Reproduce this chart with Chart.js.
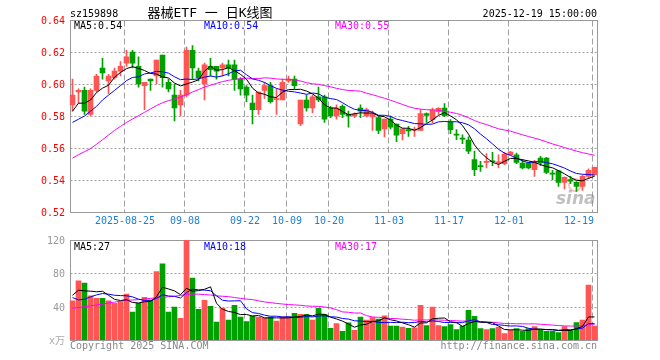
<!DOCTYPE html>
<html>
<head>
<meta charset="utf-8">
<script src="https://cdn.jsdelivr.net/npm/chart.js@4.4.0/dist/chart.umd.min.js"></script>
<style>
  body { margin: 0; background: #fff; }
  #wrap { position: relative; width: 660px; height: 360px; }
  #wrap canvas { position: absolute; left: 0; top: 0; }
</style>
</head>
<body>
<div id="wrap">
  <canvas id="kChart" width="660" height="360"></canvas>
  <canvas id="volChart" width="660" height="360"></canvas>
</div>
<script>
// Trading days
const dates = [
  '2025-08-12','2025-08-13','2025-08-14','2025-08-15','2025-08-18','2025-08-19','2025-08-20','2025-08-21','2025-08-22','2025-08-25',
  '2025-08-26','2025-08-27','2025-08-28','2025-08-29','2025-09-01','2025-09-02','2025-09-03','2025-09-04','2025-09-05','2025-09-08',
  '2025-09-09','2025-09-10','2025-09-11','2025-09-12','2025-09-15','2025-09-16','2025-09-17','2025-09-18','2025-09-19','2025-09-22',
  '2025-09-23','2025-09-24','2025-09-25','2025-09-26','2025-09-29','2025-09-30','2025-10-09','2025-10-10','2025-10-13','2025-10-14',
  '2025-10-15','2025-10-16','2025-10-17','2025-10-20','2025-10-21','2025-10-22','2025-10-23','2025-10-24','2025-10-27','2025-10-28',
  '2025-10-29','2025-10-30','2025-10-31','2025-11-03','2025-11-04','2025-11-05','2025-11-06','2025-11-07','2025-11-10','2025-11-11',
  '2025-11-12','2025-11-13','2025-11-14','2025-11-17','2025-11-18','2025-11-19','2025-11-20','2025-11-21','2025-11-24','2025-11-25',
  '2025-11-26','2025-11-27','2025-11-28','2025-12-01','2025-12-02','2025-12-03','2025-12-04','2025-12-05','2025-12-08','2025-12-09',
  '2025-12-10','2025-12-11','2025-12-12','2025-12-15','2025-12-16','2025-12-17','2025-12-18','2025-12-19'
];
const tickDates = ['2025-08-25','2025-09-08','2025-09-22','2025-10-09','2025-10-20','2025-11-03','2025-11-17','2025-12-01','2025-12-19'];

const open = [
  .587,.595,.596,.581,.596,.610,.602,.604,.608,.613,
  .620,.611,.599,.603,.605,.618,.601,.593,.587,.593,
  .621,.608,.600,.611,.611,.610,.612,.612,.603,.598,
  .588,.584,.596,.599,.5902,.590,.602,.603,.575,.590,
  .585,.592,.592,.585,.580,.586,.581,.580,.585,.580,
  .5795,.579,.572,.578,.575,.569,.5715,.5712,.571,.5815,
  .5777,.5827,.585,.576,.5685,.5658,.565,.5527,.5487,.551,
  .5517,.5508,.5502,.5558,.5558,.5506,.5506,.5465,.5537,.5537,
  .544,.5458,.5385,.5402,.5385,.536,.5423,.5433
];
const high = [
  .603,.597,.598,.597,.606,.616,.606,.610,.614,.621,
  .621,.617,.601,.603,.615,.618,.603,.600,.596,.623,
  .624,.610,.613,.616,.611,.613,.615,.615,.604,.599,
  .593,.595,.601,.601,.597,.603,.605,.605,.590,.593,
  .593,.598,.593,.586,.587,.587,.583,.582,.587,.585,
  .583,.580,.578,.580,.575,.572,.5735,.5731,.584,.582,
  .585,.5852,.5877,.5777,.5715,.5683,.567,.558,.5517,.5565,
  .5573,.5558,.5573,.5579,.5569,.5527,.551,.5523,.5548,.5542,
  .546,.546,.542,.5423,.539,.543,.547,.548
];
const low = [
  .583,.588,.581,.580,.595,.603,.594,.603,.605,.611,
  .610,.598,.584,.596,.600,.598,.595,.577,.580,.592,
  .603,.602,.590,.605,.603,.605,.605,.596,.593,.589,
  .575,.581,.591,.588,.581,.590,.601,.597,.574,.583,
  .582,.589,.576,.579,.578,.579,.573,.579,.579,.5795,
  .571,.569,.567,.572,.564,.565,.5673,.5673,.571,.576,
  .5756,.581,.5796,.569,.5652,.5627,.5565,.5427,.5454,.5475,
  .549,.5475,.5496,.5555,.5502,.547,.547,.5423,.549,.544,
  .5402,.536,.5344,.5377,.5329,.5335,.541,.543
];
const close = [
  .593,.596,.583,.596,.605,.607,.605,.608,.611,.617,
  .613,.600,.601,.602,.615,.604,.597,.585,.593,.621,
  .610,.604,.612,.609,.608,.612,.610,.603,.597,.593,
  .584,.595,.599,.589,.5906,.601,.603,.599,.590,.585,
  .592,.590,.578,.580,.585,.581,.580,.581,.583,.584,
  .5815,.571,.578,.573,.568,.572,.5706,.5716,.5815,.5804,
  .5835,.5848,.5802,.5715,.568,.5655,.558,.5465,.5484,.5513,
  .5514,.5511,.5562,.5575,.551,.5475,.5475,.5515,.5506,.5448,
  .5437,.5385,.5417,.5392,.536,.5423,.546,.5479
];
// volume, 万手
const volume = [
  46.9,71.1,68.3,52.9,50.1,50.1,46.9,44.0,45.7,55.0,
  33.5,44.0,51.3,48.1,82.0,91.3,33.5,39.6,25.9,119.6,
  74.3,36.8,47.7,40.4,21.4,38.0,23.8,41.6,27.5,22.2,
  28.7,27.5,26.7,27.5,22.6,27.9,27.9,31.9,30.7,30.7,
  23.8,38.0,30.7,14.1,19.8,10.5,20.6,11.7,27.5,24.0,
  27.0,25.0,29.0,16.6,16.6,15.4,14.1,14.5,41.6,17.4,
  39.6,17.4,16.2,18.6,12.5,16.6,35.6,28.3,13.7,12.5,
  13.7,15.4,7.7,11.7,13.7,10.5,13.7,16.2,11.7,10.5,
  10.5,8.9,16.2,11.3,21.0,23.8,65.9,16.6
];

const ma5Head = [.583,.588,.588,.590];
const ma10Head = [.576,.578,.580,.583,.586,.590,.593,.596,.599];
const ma30Head = [.5537,.5558,.5577,.5596,.5623,.5652,.5681,.5710,.5735,.5760,
  .5781,.5802,.5823,.5844,.5865,.5883,.5896,.5906,.5919,.5933,
  .5950,.5965,.5981,.5992,.6004,.6015,.6023,.6029,.6033];
const volMa5Head = [53.7,59.8,59.0,58.6];
const volMa10Head = [50.9,48.1,48.9,51.7,54.1,55.8,55.0,53.7,53.3];
const volMa30Head = [38,39,40,41,42,43,44.5,45.5,46.5,47.7,48,48.5,49,50,50.5,51,52,52.5,53.5,55,55,55,54.5,54,53,52.5,52,51,50];

const priceTicks = [0.64,0.62,0.60,0.58,0.56,0.54,0.52];
const volTicks = [120,80,40];

const RED = '#ff5555';
const GREEN = '#00a000';
const MONO = '10px "DejaVu Sans Mono", monospace';

function movingAverage(values, n, head) {
  return values.map((v, i) => {
    if (i < n - 1) return head[i];
    let s = 0;
    for (let k = i - n + 1; k <= i; k++) s += values[k];
    return s / n;
  });
}

const colors = close.map((c, i) => (c >= open[i] ? RED : GREEN));
const xy = arr => arr.map((v, i) => ({ x: i, y: v }));

function lineSet(data, color) {
  return {
    type: 'line', data: xy(data), borderColor: color, borderWidth: 1,
    pointRadius: 0, tension: 0, fill: false
  };
}

// dotted/dashed grid + frame, drawn under the data
function gridPlugin(yLines, drawLogo) {
  return {
    id: 'sinaGrid',
    beforeDatasetsDraw(chart) {
      const { ctx, chartArea: a, scales: { x, y } } = chart;
      const L = Math.round(a.left) + 0.5, R = Math.round(a.right) - 0.5;
      const T = Math.round(a.top) + 0.5, B = Math.round(a.bottom) + 0.5;
      ctx.save();
      ctx.lineWidth = 1;
      ctx.strokeStyle = '#a0a0a0';
      ctx.setLineDash([2, 2]);
      yLines.forEach(v => {
        const py = Math.round(y.getPixelForValue(v)) + 0.5;
        ctx.beginPath(); ctx.moveTo(L, py); ctx.lineTo(R, py); ctx.stroke();
      });
      ctx.setLineDash([6, 3]);
      tickDates.forEach(d => {
        const px = Math.round(x.getPixelForValue(dates.indexOf(d))) - 2.5;
        ctx.beginPath(); ctx.moveTo(px, T); ctx.lineTo(px, B); ctx.stroke();
      });
      ctx.setLineDash([]);
      ctx.strokeStyle = '#999';
      ctx.strokeRect(L, T, R - L, B - T);
      if (drawLogo) {
        // faint sina watermark
        ctx.strokeStyle = 'rgba(240,120,120,0.45)';
        ctx.lineWidth = 2;
        ctx.beginPath(); ctx.arc(575, 185, 6, 0, Math.PI * 2); ctx.stroke();
        ctx.fillStyle = 'rgba(140,140,140,0.55)';
        ctx.font = 'italic bold 17px "DejaVu Sans", sans-serif';
        ctx.textAlign = 'left';
        ctx.textBaseline = 'alphabetic';
        ctx.fillText('sina', 556, 204);
      }
      ctx.restore();
    }
  };
}

const textPlugin = {
  id: 'kText',
  afterDraw(chart) {
    const { ctx, scales: { x, y }, chartArea: a } = chart;
    ctx.save();
    ctx.textBaseline = 'alphabetic';
    ctx.font = MONO;
    ctx.fillStyle = '#000';
    ctx.textAlign = 'left';
    ctx.fillText('sz159898', 70, 17);
    ctx.textAlign = 'right';
    ctx.fillText('2025-12-19 15:00:00', 597, 17);
    ctx.font = '13px "DejaVu Sans Mono", "Noto Sans CJK SC", sans-serif';
    ctx.textAlign = 'center';
    ctx.fillText('器械ETF 一 日K线图', 210, 17);

    ctx.font = MONO;
    ctx.textAlign = 'left';
    ctx.fillStyle = '#000'; ctx.fillText('MA5:0.54', 74, 29);
    ctx.fillStyle = '#0000ff'; ctx.fillText('MA10:0.54', 204, 29);
    ctx.fillStyle = '#ff00ff'; ctx.fillText('MA30:0.55', 335, 29);

    ctx.textBaseline = 'middle';
    ctx.textAlign = 'right';
    ctx.fillStyle = '#ff0000';
    priceTicks.forEach(v => ctx.fillText(v.toFixed(2), 65, Math.round(y.getPixelForValue(v)) + 1));

    ctx.fillStyle = '#1a7fd6';
    tickDates.forEach((d, k) => {
      const label = k === 0 ? d : d.slice(5);
      const px = Math.round(x.getPixelForValue(dates.indexOf(d))) - 2;
      const w = ctx.measureText(label).width;
      if (px + w / 2 > a.right) {
        ctx.textAlign = 'right';
        ctx.fillText(label, px + 1, 221);
      } else {
        ctx.textAlign = 'center';
        ctx.fillText(label, px, 221);
      }
    });
    ctx.restore();
  }
};

const volTextPlugin = {
  id: 'volText',
  afterDraw(chart) {
    const { ctx, scales: { y } } = chart;
    ctx.save();
    ctx.font = MONO;
    ctx.textBaseline = 'alphabetic';
    ctx.textAlign = 'left';
    ctx.fillStyle = '#000'; ctx.fillText('MA5:27', 74, 250);
    ctx.fillStyle = '#0000ff'; ctx.fillText('MA10:18', 204, 250);
    ctx.fillStyle = '#ff00ff'; ctx.fillText('MA30:17', 335, 250);

    ctx.fillStyle = '#888';
    ctx.fillText('Copyright 2025 SINA.COM', 70, 349);
    ctx.textAlign = 'right';
    ctx.fillText('http://finance.sina.com.cn', 597, 349);

    ctx.textBaseline = 'middle';
    ctx.fillStyle = '#999';
    volTicks.forEach(v => ctx.fillText(String(v), 65, Math.round(y.getPixelForValue(v)) + 1));
    ctx.font = '10px "DejaVu Sans Mono", "Noto Sans CJK SC", sans-serif';
    ctx.fillStyle = '#aaa';
    ctx.fillText('x万', 65, 341);
    ctx.restore();
  }
};

const commonOptions = {
  responsive: false,
  animation: false,
  devicePixelRatio: 1,
  events: [],
  plugins: { legend: { display: false }, tooltip: { enabled: false } }
};

// K line chart
const kChart = new Chart(document.getElementById('kChart'), {
  type: 'bar',
  data: {
    datasets: [
      lineSet(movingAverage(close, 5, ma5Head), '#000000'),
      lineSet(movingAverage(close, 10, ma10Head), '#0000ff'),
      lineSet(movingAverage(close, 30, ma30Head), '#ff00ff'),
      {
        data: open.map((o, i) => ({ x: i, y: [o, close[i]] })),
        backgroundColor: colors, borderWidth: 0,
        barThickness: 5, minBarLength: 1, grouped: false
      },
      {
        data: low.map((l, i) => ({ x: i, y: [l, high[i]] })),
        backgroundColor: colors, borderWidth: 0,
        barThickness: 1, grouped: false
      }
    ]
  },
  options: {
    ...commonOptions,
    layout: { padding: { left: 69.5, right: 62.5, top: 20, bottom: 148 } },
    scales: {
      x: { type: 'linear', min: -0.5, max: 87.5, offset: false, display: false },
      y: { min: 0.52, max: 0.64, beginAtZero: false, display: false }
    }
  },
  plugins: [gridPlugin([0.62, 0.60, 0.58, 0.56, 0.54], true), textPlugin]
});

// Volume chart
const volChart = new Chart(document.getElementById('volChart'), {
  type: 'bar',
  data: {
    datasets: [
      lineSet(movingAverage(volume, 5, volMa5Head), '#000000'),
      lineSet(movingAverage(volume, 10, volMa10Head), '#0000ff'),
      lineSet(movingAverage(volume, 30, volMa30Head), '#ff00ff'),
      {
        data: xy(volume),
        backgroundColor: colors, borderWidth: 0,
        barThickness: 5, grouped: false
      }
    ]
  },
  options: {
    ...commonOptions,
    layout: { padding: { left: 69.5, right: 62.5, top: 240, bottom: 20 } },
    scales: {
      x: { type: 'linear', min: -0.5, max: 87.5, offset: false, display: false },
      y: { min: 0, max: 120, display: false }
    }
  },
  plugins: [gridPlugin([80, 40], false), volTextPlugin]
});
</script>
</body>
</html>
